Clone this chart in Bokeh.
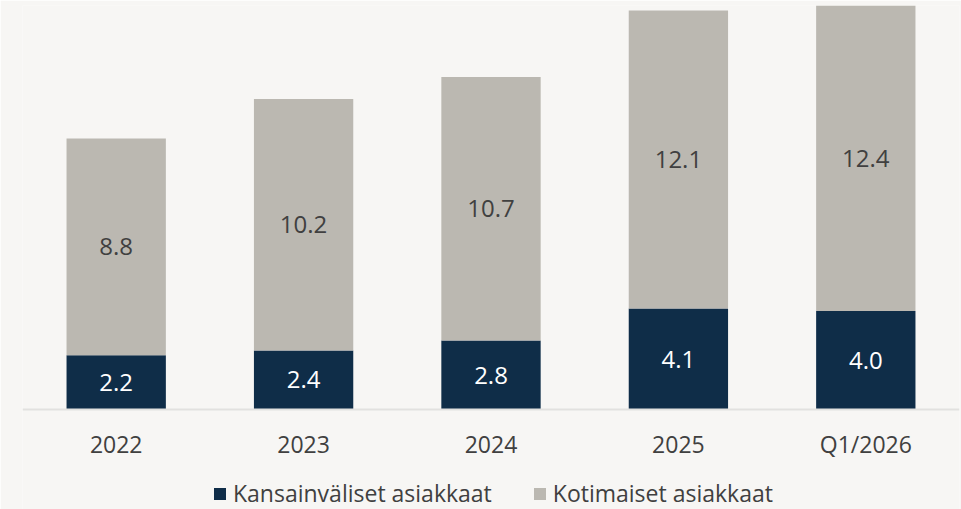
from bokeh.plotting import figure
from bokeh.models import ColumnDataSource, LabelSet, Legend, LegendItem, Range1d
from bokeh.core.properties import value
from bokeh.embed import file_html
from bokeh.resources import INLINE

categories = ["2022", "2023", "2024", "2025", "Q1/2026"]
international = [2.2, 2.4, 2.8, 4.1, 4.0]
domestic = [8.8, 10.2, 10.7, 12.1, 12.4]
series_names = ["Kansainväliset asiakkaat", "Kotimaiset asiakkaat"]

NAVY = "#0f2d48"
GRAY = "#bbb8b1"
BG = "#f7f6f4"
FONT = "Open Sans"

src = ColumnDataSource(dict(
    cat=categories,
    intl=international,
    dom=domestic,
    intl_mid=[v / 2 for v in international],
    dom_mid=[a + b / 2 for a, b in zip(international, domestic)],
    intl_txt=[f"{v:.1f}" for v in international],
    dom_txt=[f"{v:.1f}" for v in domestic],
))

# frame covers the whole lower area; the axis sits at y = 0 inside it
p = figure(x_range=categories, frame_width=937, frame_height=504, output_backend="svg",
           toolbar_location=None, background_fill_color=BG, border_fill_color=BG,
           min_border_left=22, min_border_right=2, min_border_top=5, min_border_bottom=0)
p.y_range = Range1d(-16.4 * 100 / 404, 16.4)
p.x_range.range_padding = 0

r = p.vbar_stack(["intl", "dom"], x="cat", width=0.53, color=[NAVY, GRAY], source=src,
                 line_color=None)

p.add_layout(LabelSet(x="cat", y="intl_mid", text="intl_txt", source=src,
                      text_align="center", text_baseline="middle", text_color="white",
                      text_font=value(FONT), text_font_size="24px"))
p.add_layout(LabelSet(x="cat", y="dom_mid", text="dom_txt", source=src,
                      text_align="center", text_baseline="middle", text_color="#404040",
                      text_font=value(FONT), text_font_size="24px"))

p.yaxis.visible = False
p.xgrid.visible = False
p.ygrid.visible = False
p.outline_line_color = None
p.xaxis.fixed_location = 0
p.xaxis.axis_line_color = "#e2e1df"
p.xaxis.axis_line_width = 2
p.xaxis.major_tick_line_color = None
p.xaxis.minor_tick_line_color = None
p.xaxis.major_tick_out = 0
p.xaxis.major_label_standoff = 18
p.xaxis.major_label_text_font = FONT
p.xaxis.major_label_text_font_size = "23px"
p.xaxis.major_label_text_color = "#404040"

legend = Legend(items=[LegendItem(label=series_names[0], renderers=[r[0]]),
                       LegendItem(label=series_names[1], renderers=[r[1]])],
                orientation="horizontal", location=(190, 0),
                background_fill_alpha=0, border_line_color=None,
                label_text_font=FONT, label_text_font_size="23px", label_text_color="#404040",
                glyph_width=15, glyph_height=15, label_standoff=6, spacing=40,
                margin=0, padding=2)
p.add_layout(legend, "center")

open("out.html", "w").write(file_html(p, INLINE))
